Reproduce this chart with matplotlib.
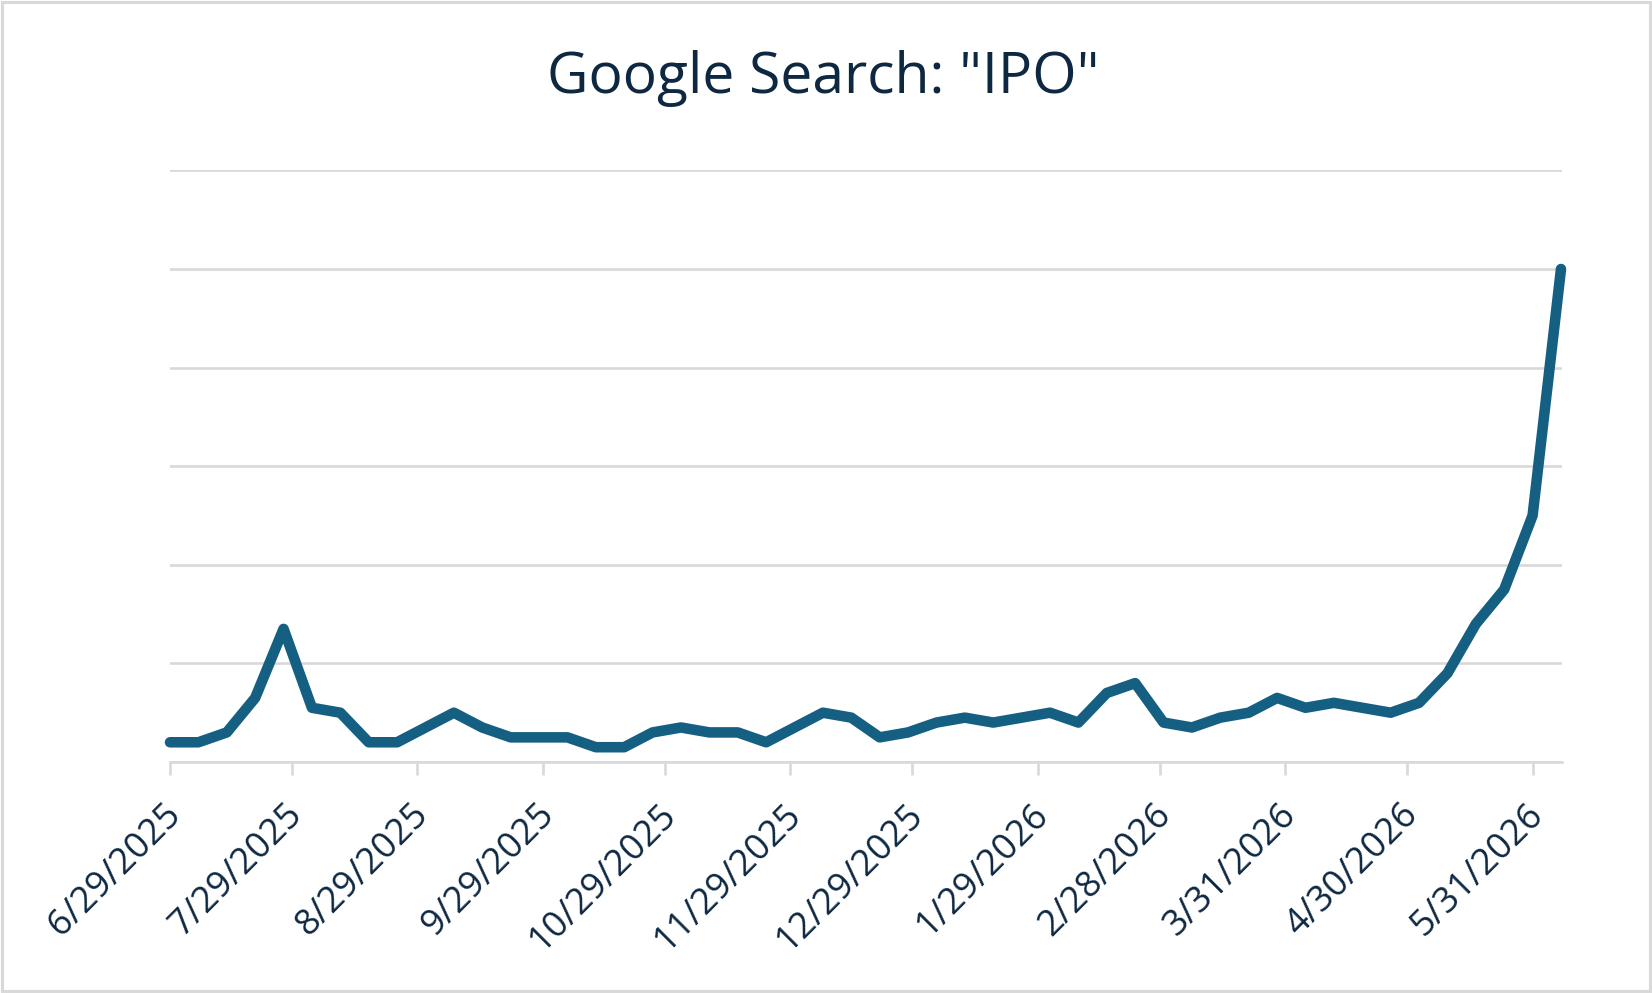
import matplotlib
matplotlib.use('Agg')
import matplotlib.pyplot as plt
import matplotlib.transforms as mtransforms
import pandas as pd
from matplotlib.patches import Rectangle

# ---- data ----
start_date = '2025-06-29'
values = [4, 4, 6, 13, 27, 11, 10, 4, 4, 7,
          10, 7, 5, 5, 5, 3, 3, 6, 7, 6,
          6, 4, 7, 10, 9, 5, 6, 8, 9, 8,
          9, 10, 8, 14, 16, 8, 7, 9, 10, 13,
          11, 12, 11, 10, 12, 18, 28, 35, 50, 100]
tick_labels = ['6/29/2025', '7/29/2025', '8/29/2025', '9/29/2025', '10/29/2025',
               '11/29/2025', '12/29/2025', '1/29/2026', '2/28/2026', '3/31/2026',
               '4/30/2026', '5/31/2026']
title = 'Google Search: "IPO"'

dates = pd.date_range(start_date, periods=len(values), freq='7D')
tick_dates = pd.to_datetime(tick_labels, format='%m/%d/%Y')

text_color = '#0E2841'
line_color = '#156082'
grid_color = '#D9D9D9'

plt.rcParams['font.family'] = ['Open Sans', 'DejaVu Sans']

W, H = 1652, 993
fig = plt.figure(figsize=(W / 100, H / 100), dpi=100)
fig.patch.set_facecolor('white')

left, right = 170 / W, 1562 / W
bottom, top = 1 - 762 / H, 1 - 170.4 / H
ax = fig.add_axes([left, bottom, right - left, top - bottom])

ax.plot(dates, values, color=line_color, lw=7.6, solid_joinstyle='round',
        solid_capstyle='round', zorder=3, clip_on=False)

ax.set_ylim(0, 120)
ax.set_yticks(range(0, 121, 20))
ax.yaxis.grid(True, color=grid_color, lw=1.9)
ax.set_axisbelow(True)
ax.tick_params(axis='y', left=False, labelleft=False)

ax.set_xlim(dates[0], dates[-1] + pd.Timedelta(hours=6))
for s in ['top', 'right', 'left']:
    ax.spines[s].set_visible(False)
ax.spines['bottom'].set_color(grid_color)
ax.spines['bottom'].set_linewidth(1.9)

ax.set_xticks(tick_dates)
ax.set_xticklabels(tick_labels, rotation=45, ha='right', va='center',
                   rotation_mode='anchor', fontsize=26, color=text_color)
ax.tick_params(axis='x', length=9.5, width=1.9, color=grid_color, pad=25)
offset = mtransforms.ScaledTranslation(6 / 100, 0, fig.dpi_scale_trans)
for lbl in ax.get_xticklabels():
    lbl.set_transform(lbl.get_transform() + offset)

fig.text(823.5 / W, 1 - 93 / H, title, ha='center', va='baseline',
         fontsize=41, color=text_color)

fig.patches.append(Rectangle((2 / W, 2 / H), 1 - 4 / W, 1 - 4 / H,
                             transform=fig.transFigure, fill=False,
                             edgecolor=grid_color, lw=2.2))

fig.savefig('out.png', dpi=100, facecolor='white')
